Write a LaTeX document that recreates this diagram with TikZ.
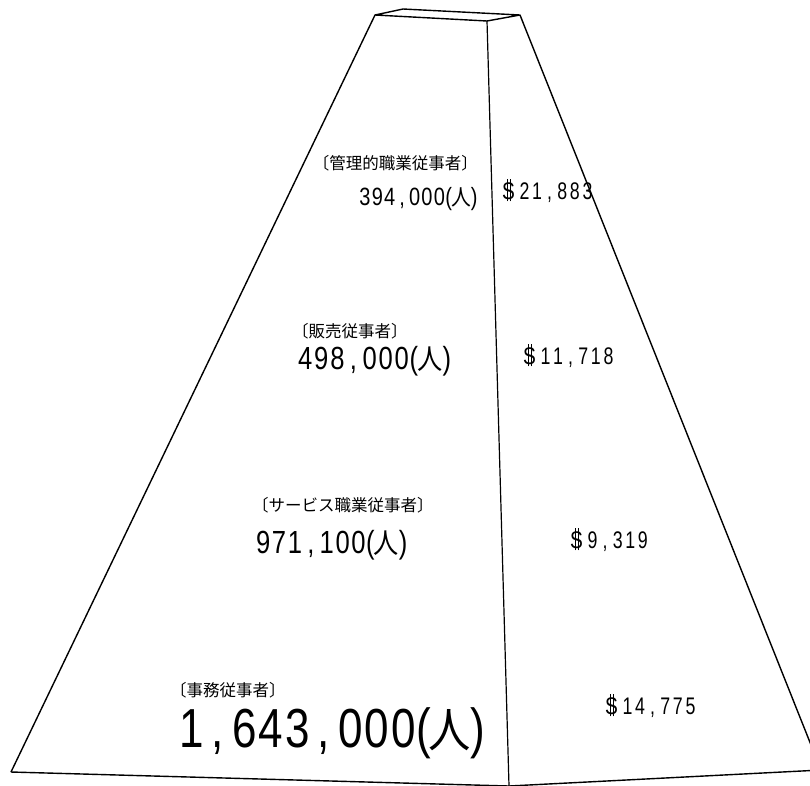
\documentclass[tikz,border=0pt]{standalone}
\usepackage{fontspec}
\setmainfont{Liberation Sans}
\newfontfamily\jp{Noto Sans CJK JP}
\makeatletter
% cells: pitch, font size, xscale, string
\newcommand\digs[4]{\@tfor\nmc:=#4\do{\makebox[#1pt][c]{\scalebox{#3}[1]{\fontsize{#2}{#2}\selectfont\nmc}}}}
\makeatother
% number with (人): pitch, size, digits, 人 size
\newcommand\pnum[4]{\digs{#1}{#2}{0.8}{#3}%
  \makebox[0.5\dimexpr#1pt\relax][c]{\scalebox{0.8}[1]{\fontsize{#2}{#2}\selectfont(}}%
  \makebox[1.5\dimexpr#1pt\relax][c]{\scalebox{0.9}[1]{\jp\fontsize{#4}{#4}\selectfont 人}}%
  \makebox[0.6\dimexpr#1pt\relax][c]{\scalebox{0.8}[1]{\fontsize{#2}{#2}\selectfont)}}}
\newcommand\dol{\ooalign{\hfil S\hfil\cr\hfil\rule[-0.1em]{0.04em}{0.92em}\hspace{0.12em}\rule[-0.1em]{0.04em}{0.92em}\hfil\cr}}
\newcommand\pay[1]{\makebox[16pt][l]{\scalebox{0.8}[1]{\fontsize{24}{24}\selectfont\dol}}\digs{12.6}{24}{0.74}{#1}}
\begin{document}
\begin{tikzpicture}[x=1pt,y=-1pt,
  edge/.style={line width=1.4pt, line join=round},
  lab/.style={inner sep=0pt, font=\jp\fontsize{16.5}{16.5}\selectfont},
  num/.style={inner sep=0pt},
  paynode/.style={inner sep=0pt, anchor=base west}]
\useasboundingbox (0,0) rectangle (810,785);
% pyramid
\coordinate (tl) at (375,15);
\coordinate (tb) at (403,9);
\coordinate (tr) at (520,15);
\coordinate (tf) at (487,21);
\coordinate (bl) at (11,772);
\coordinate (bf) at (509,786);
\coordinate (br) at (821,770);
\draw[edge] (tl) -- (tb) -- (tr) -- (tf) -- cycle;
\draw[edge] (tl) -- (bl);
\draw[edge] (tr) -- (br);
\draw[line width=1.2pt] (tf) -- (bf);
\draw[edge] (bl) -- (bf) -- (br);
% row 1
\node[lab, anchor=east] (l1) at (478,163) {〔管理的職業従事者〕};
\node[num, anchor=base east] (n1) at (478,205) {\pnum{12.4}{25}{394,000}{22}};
\node[paynode] (p1) at (502,199) {\pay{21,883}};
% row 2
\node[lab, anchor=west] (l2) at (292,331) {〔販売従事者〕};
\node[num, anchor=base west] (n2) at (297,369) {\pnum{16.1}{32}{498,000}{28}};
\node[paynode] (p2) at (523,364) {\pay{11,718}};
% row 3
\node[lab, anchor=west] (l3) at (252,505) {〔サービス職業従事者〕};
\node[num, anchor=base west] (n3) at (255,553) {\pnum{15.9}{32}{971,100}{28}};
\node[paynode] (p3) at (570,548) {\pay{9,319}};
% row 4
\node[lab, anchor=west] (l4) at (170,690) {〔事務従事者〕};
\node[num, anchor=base west] (n4) at (178,747) {\pnum{26.5}{55}{1,643,000}{47}};
\node[paynode] (p4) at (605,714) {\pay{14,775}};
\end{tikzpicture}
\end{document}
